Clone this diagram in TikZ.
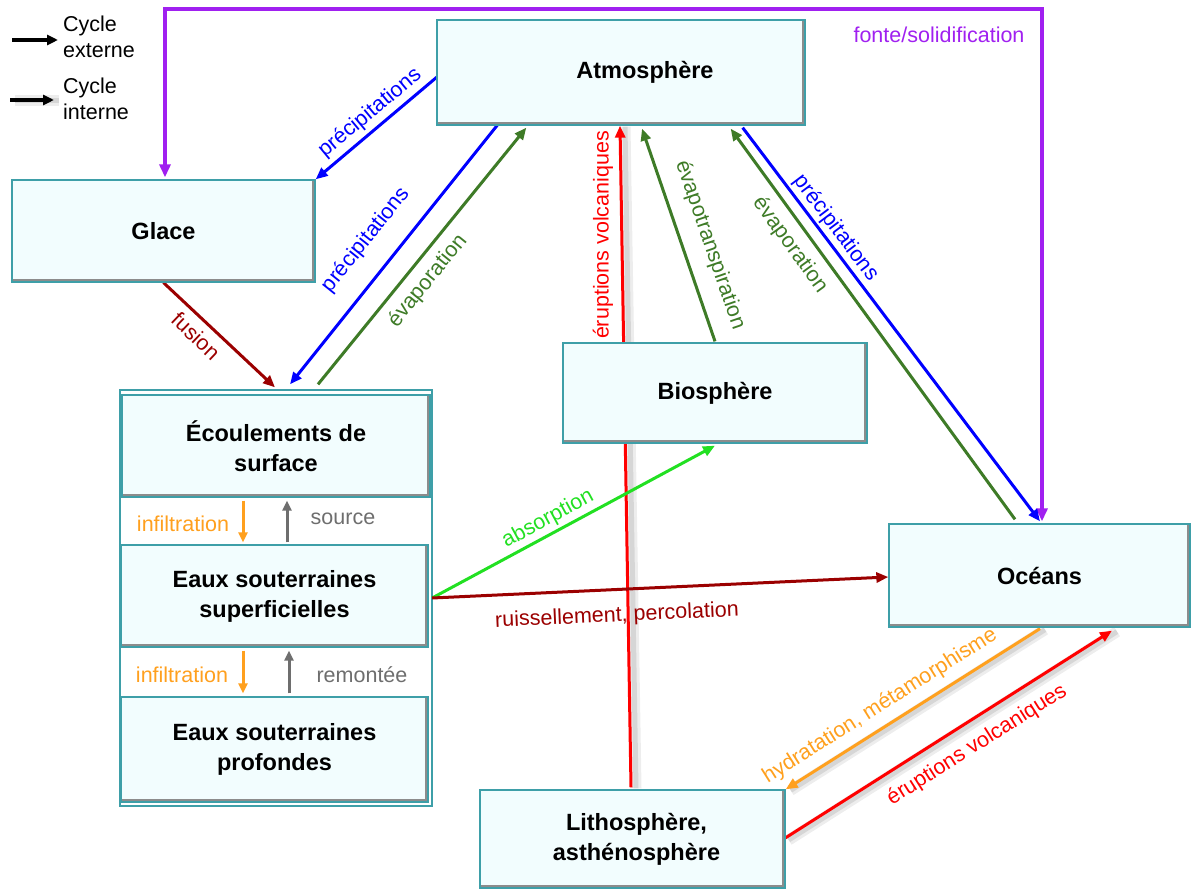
\documentclass[tikz,border=0pt]{standalone}
\usepackage{fontspec}
\setmainfont{Liberation Sans}
\usetikzlibrary{arrows.meta,calc}
\definecolor{cblue}{HTML}{0000FF}
\definecolor{cgreen}{HTML}{3E7B27}
\definecolor{cdred}{HTML}{9B0000}
\definecolor{cred}{HTML}{FF0000}
\definecolor{corange}{HTML}{FFA01E}
\definecolor{cpurple}{HTML}{A020F0}
\definecolor{clgreen}{HTML}{22E022}
\definecolor{cgray}{HTML}{6E6E6E}
\definecolor{cfill}{HTML}{F2FDFE}
\definecolor{cteal}{HTML}{3E9FA8}
\pgfdeclarelayer{bg}
\pgfsetlayers{bg,main}
\newcommand{\boxfont}{\bfseries\fontsize{23.5}{30}\selectfont}
\newcommand{\labfont}{\fontsize{21.5}{26}\selectfont}
\begin{document}
\begin{tikzpicture}[x=1pt,y=-1pt,
  box/.style={draw=cteal, line width=1.3pt, fill=cfill, inner sep=0pt, align=center, font=\boxfont,
    path picture={\draw[line width=6pt, black!45] (path picture bounding box.south west) -- (path picture bounding box.south east) -- (path picture bounding box.north east);}},
  grpbox/.style={draw=cteal, line width=1.2pt, fill=white, inner sep=0pt},
  arr/.style={line width=3pt, -{Triangle[length=12pt,width=10pt]}},
  sarr/.style={line width=3pt, -{Triangle[length=10pt,width=9pt]}},
  lab/.style={font=\labfont, inner sep=0pt, anchor=center},
  txt/.style={font=\labfont, inner sep=0pt, align=left},
  ishadow/.style={preaction={draw=black!70, opacity=0.10, line width=11pt, -, transform canvas={shift={(5pt,-1pt)}}},
                  preaction={draw=black!70, opacity=0.14, line width=5pt, -, transform canvas={shift={(5pt,-1pt)}}}}
]
\useasboundingbox (0,0) rectangle (1192,890);

% container of the water boxes
\begin{pgfonlayer}{bg}
\node[grpbox, minimum width=312pt, minimum height=416pt] (grp) at (276,598) {};
\end{pgfonlayer}

% boxes
\node[box, minimum width=368pt, minimum height=105pt] (atm) at (621,72.5) {\hspace*{48pt}Atmosphère};
\node[box, minimum width=303pt, minimum height=102pt] (glace) at (163.5,231) {Glace};
\node[box, minimum width=308pt, minimum height=102pt] (ecoul) at (276,446) {Écoulements de\\surface};
\node[box, minimum width=307pt, minimum height=102pt] (sup) at (274.5,596) {Eaux souterraines\\superficielles};
\node[box, minimum width=307pt, minimum height=105pt] (prof) at (274.5,749.5) {Eaux souterraines\\profondes};
\node[box, minimum width=304pt, minimum height=100pt] (bio) at (715,393) {Biosphère};
\node[box, minimum width=301pt, minimum height=103pt] (oce) at (1039.5,575.5) {Océans};
\node[box, minimum width=305pt, minimum height=98pt] (litho) at (632.5,839) {\hspace*{8pt}Lithosphère,\\\hspace*{8pt}asthénosphère};

% legend
\coordinate (le1) at (12,40);
\coordinate (le2) at (58,40);
\coordinate (li1) at (10,100);
\coordinate (li2) at (54,100);
\draw[line width=3.5pt, -{Triangle[length=11pt,width=10pt]}] (le1) -- (le2);
\draw[ishadow, line width=3.5pt, -{Triangle[length=11pt,width=10pt]}] (li1) -- (li2);
\node[txt, anchor=west] (lext) at (63,37) {Cycle\\externe};
\node[txt, anchor=west] (lint) at (63,99) {Cycle\\interne};

\begin{pgfonlayer}{bg}
% fonte / solidification
\coordinate (ptop) at (600,9);
\coordinate (gA) at ($(glace.north)+(1.5,-2)$);
\coordinate (oA) at ($(oce.north)+(2.5,-2)$);
\draw[cpurple, line width=4pt, {Triangle[length=13pt,width=11pt]}-{Triangle[length=13pt,width=11pt]}]
  (gA) -- (gA |- ptop) -- (oA |- ptop) -- (oA);
\node[font=\labfont, text=cpurple, inner sep=0pt] (fslab) at (939,35) {fonte/solidification};

% précipitations atm -> glace
\draw[arr, cblue] ($(atm.west)+(3,2.5)$) -- (glace.north east);
\node[lab, text=cblue, rotate=39.7] (l1) at (370,113) {précipitations};
% précipitations atm -> écoulements
\draw[arr, cblue] ($(atm.south west)+(63,-3)$) -- ($(ecoul.north)+(14,-10)$);
\node[lab, text=cblue, rotate=51.4] (l2) at (366,240) {précipitations};
% évaporation écoulements -> atm
\draw[arr, cgreen] ($(ecoul.north)+(42,-10)$) -- ($(atm.south west)+(90,2)$);
\node[lab, text=cgreen, rotate=51] (l3) at (428,281) {évaporation};
% fusion
\draw[arr, cdred] (glace.south) -- ($(ecoul.north)+(-1,-7)$);
\node[lab, text=cdred, rotate=-43.6] (l4) at (196,336) {fusion};
% éruptions volcaniques litho -> atm
\draw[arr, cred, ishadow] ($(litho.north)+(-1.5,-2)$) -- ($(atm.south)+(-1,0)$);
\node[lab, text=cred, rotate=90] (l5) at (603,235) {éruptions volcaniques};
% évapotranspiration
\draw[arr, cgreen] ($(bio.north)+(0,-1)$) -- ($(atm.south)+(21,3)$);
\node[lab, text=cgreen, rotate=-71] (l6) at (710,245) {évapotranspiration};
% évaporation océans -> atm
\draw[arr, cgreen] ($(oce.north)+(-24.5,-4)$) -- ($(atm.south east)+(-75,3)$);
\node[lab, text=cgreen, rotate=-54] (l7) at (790,245) {évaporation};
% précipitations atm -> océans
\draw[arr, cblue] ($(atm.south east)+(-63,2)$) -- ($(oce.north)+(0.5,-2)$);
\node[lab, text=cblue, rotate=-53] (l8) at (836,228) {précipitations};
% absorption
\draw[arr, clgreen] ($(sup.east)+(3.5,2)$) -- ($(bio.south)+(0,2)$);
\node[lab, text=clgreen, rotate=28.4] (l9) at (548,519) {absorption};
% ruissellement, percolation
\draw[arr, cdred] ($(sup.east)+(3.5,2)$) -- ($(oce.west)+(0,1.5)$);
\node[lab, text=cdred, rotate=2.6] (l10) at (617,616) {ruissellement, percolation};
% hydratation, métamorphisme
\draw[arr, corange, ishadow] ($(oce.south)+(0.5,1)$) -- (litho.north east);
\node[lab, text=corange, rotate=32.3] (l11) at (880,706) {hydratation, métamorphisme};
% éruptions volcaniques litho -> océans
\draw[arr, cred, ishadow] ($(litho.east)+(-2,0)$) -- ($(oce.south)+(72.5,3)$);
\node[lab, text=cred, rotate=32.3] (l12) at (977,745) {éruptions volcaniques};

% internal water exchanges
\draw[sarr, corange] ($(ecoul.south)+(-33,3)$) -- ($(sup.north)+(-31.5,-2)$);
\draw[sarr, cgray] ($(sup.north)+(12.5,-2)$) -- ($(ecoul.south)+(11,3)$);
\draw[sarr, corange] ($(sup.south)+(-31.5,3)$) -- ($(prof.north)+(-31.5,-3)$);
\draw[sarr, cgray] ($(prof.north)+(14.5,-3)$) -- ($(sup.south)+(14.5,3)$);
\end{pgfonlayer}
\node[font=\labfont, text=corange, inner sep=0pt] (inf1) at (183,524) {infiltration};
\node[font=\labfont, text=cgray, inner sep=0pt] (src) at (343,519) {source};
\node[font=\labfont, text=corange, inner sep=0pt] (inf2) at (182,675) {infiltration};
\node[font=\labfont, text=cgray, inner sep=0pt] (rem) at (362,675) {remontée};
\end{tikzpicture}
\end{document}
